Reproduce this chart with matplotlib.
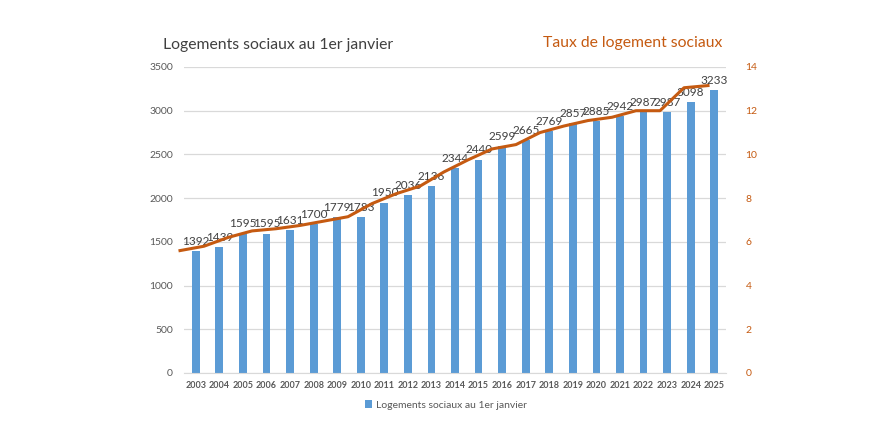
import numpy as np
import matplotlib
matplotlib.use('Agg')
import matplotlib.pyplot as plt

plt.rcParams['font.family'] = ['Lato', 'DejaVu Sans']

years = [str(y) for y in range(2003, 2026)]
logements = [1392, 1439, 1595, 1595, 1631, 1700, 1779, 1783, 1950, 2036, 2136,
             2344, 2440, 2599, 2665, 2769, 2857, 2885, 2942, 2987, 2987, 3098, 3233]
taux = [5.6, 5.8, 6.2, 6.5, 6.6, 6.75, 6.95, 7.15, 7.75, 8.2, 8.55, 9.2,
        9.75, 10.25, 10.45, 11.0, 11.3, 11.55, 11.7, 12.0, 12.0, 13.05, 13.15]

blue = '#5B9BD5'
orange = '#C55A11'
grey = '#595959'

fig = plt.figure(figsize=(8.83, 4.46), dpi=100)
pos = [0.2084, 0.1637, 0.6138, 0.6861]
ax = fig.add_axes(pos)

x = np.arange(len(years))
bars = ax.bar(x, logements, width=0.33, color=blue, zorder=2,
              label='Logements sociaux au 1er janvier')
ax.bar_label(bars, labels=[str(v) for v in logements], padding=3,
             fontsize=8.5, color='#404040', zorder=5)

ax.set_xlim(-0.5, len(years) - 0.5)
ax.set_ylim(0, 3500)
ax.set_yticks(range(0, 3501, 500))
ax.set_xticks(x)
ax.set_xticklabels(years, fontsize=6.5, fontweight='bold', color=grey)
ax.tick_params(axis='y', labelsize=7.5, labelcolor=grey, length=0, pad=8)
ax.tick_params(axis='x', length=0, pad=6)
ax.grid(axis='y', color='#D9D9D9', linewidth=0.9, zorder=0)
for s in ['top', 'right', 'left']:
    ax.spines[s].set_visible(False)
ax.spines['bottom'].set_color('#D9D9D9')

# courbe du taux sur un axe secondaire
ax2 = fig.add_axes(pos, frameon=False)
ax2.plot(np.arange(len(taux)), taux, color=orange, linewidth=2.2,
         clip_on=False, zorder=3)
ax2.set_xlim(0.167, 22.75)
ax2.set_ylim(0, 14)
ax2.set_yticks(range(0, 15, 2))
ax2.yaxis.tick_right()
ax2.tick_params(axis='y', labelsize=7.5, labelcolor=orange, length=0, pad=14)
ax2.set_xticks([])

fig.text(163 / 883, 1 - 45 / 446, 'Logements sociaux au 1er janvier',
         fontsize=11.3, color='#404040', va='center', ha='left')
fig.text(722 / 883, 1 - 43 / 446, 'Taux de logement sociaux',
         fontsize=11.3, color=orange, va='center', ha='right')

ax.legend(loc='center', bbox_to_anchor=(446 / 883, 1 - 405 / 446),
          bbox_transform=fig.transFigure, frameon=False, fontsize=7.5,
          handlelength=0.7, handleheight=0.7, handletextpad=0.4,
          labelcolor=grey)

fig.savefig('out.png', dpi=100)
